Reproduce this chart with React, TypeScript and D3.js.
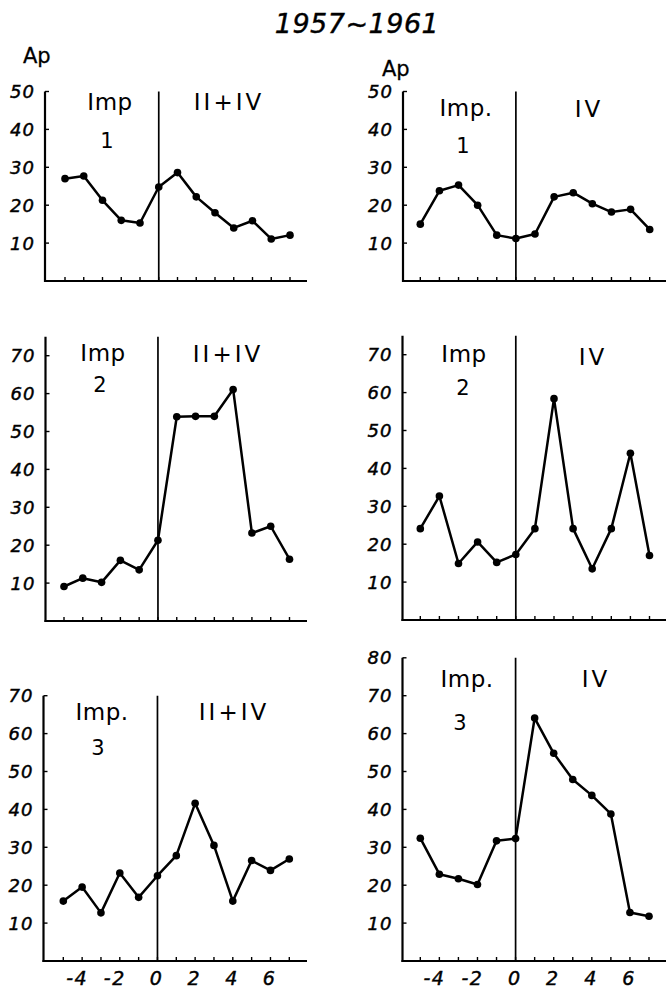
import * as d3 from 'd3';

const days = [-5, -4, -3, -2, -1, 0, 1, 2, 3, 4, 5, 6, 7];
const xTickLabels = [-4, -2, 0, 2, 4, 6];

// Ap values, one list per panel
const apImp1Left = [27, 27.7, 21.3, 16, 15.3, 24.8, 28.6, 22.2, 18, 14, 15.9, 11.1, 12.1];
const apImp1Right = [15, 23.8, 25.3, 20, 12.1, 11.2, 12.4, 22.2, 23.3, 20.4, 18.2, 18.9, 13.6];
const apImp2Left = [9.1, 11.3, 10.2, 16, 13.5, 21.3, 53.9, 54, 54, 61.1, 23.2, 25, 16.3];
const apImp2Right = [24.1, 32.7, 14.9, 20.6, 15.2, 17.3, 24.1, 58.4, 24.1, 13.5, 24.1, 44, 17];
const apImp3Left = [15.8, 19.5, 12.7, 23.2, 16.8, 22.5, 27.8, 41.6, 30.5, 15.8, 26.5, 23.9, 26.9];
const apImp3Right = [32.4, 22.9, 21.7, 20.2, 31.7, 32.3, 64.1, 54.8, 47.9, 43.7, 38.8, 12.8, 11.8];

const yTicks50 = [10, 20, 30, 40, 50];
const yTicks70 = [10, 20, 30, 40, 50, 60, 70];
const yTicks80 = [10, 20, 30, 40, 50, 60, 70, 80];

const title = '1957~1961';

const PX_PER_UNIT = 3.79;
const tickFont = '"DejaVu Sans", sans-serif';

const panels = [
  {
    values: apImp1Left, ticks: yTicks50, top: 50,
    axisX: 45, axisEnd: 307, xRange: [65, 290], base: 281,
    ap: { x: 23, y: 63 }, xLabels: false,
    imp: { text: 'Imp', x: 110, y: 110 }, num: { text: '1', x: 107, y: 148 },
    right: { text: 'II+IV', x: 229, y: 110 },
  },
  {
    values: apImp1Right, ticks: yTicks50, top: 50,
    axisX: 403, axisEnd: 666, xRange: [420.3, 649.7], base: 281,
    ap: { x: 382, y: 76 }, xLabels: false,
    imp: { text: 'Imp.', x: 466, y: 116 }, num: { text: '1', x: 463, y: 153 },
    right: { text: 'IV', x: 589, y: 117 },
  },
  {
    values: apImp2Left, ticks: yTicks70, top: 75,
    axisX: 45.5, axisEnd: 307, xRange: [64, 289.5], base: 621,
    ap: null, xLabels: false,
    imp: { text: 'Imp', x: 103, y: 361 }, num: { text: '2', x: 100, y: 392 },
    right: { text: 'II+IV', x: 228, y: 362 },
  },
  {
    values: apImp2Right, ticks: yTicks70, top: 75,
    axisX: 402.5, axisEnd: 666, xRange: [420.3, 649.5], base: 620,
    ap: null, xLabels: false,
    imp: { text: 'Imp', x: 464, y: 362 }, num: { text: '2', x: 463, y: 395 },
    right: { text: 'IV', x: 593, y: 365 },
  },
  {
    values: apImp3Left, ticks: yTicks70, top: 70,
    axisX: 43.5, axisEnd: 307, xRange: [63.3, 289.3], base: 961,
    ap: null, xLabels: true,
    imp: { text: 'Imp.', x: 102, y: 720 }, num: { text: '3', x: 98, y: 755 },
    right: { text: 'II+IV', x: 234, y: 720 },
  },
  {
    values: apImp3Right, ticks: yTicks80, top: 80,
    axisX: 402.5, axisEnd: 666, xRange: [420.3, 649], base: 961,
    ap: null, xLabels: true,
    imp: { text: 'Imp.', x: 467, y: 687 }, num: { text: '3', x: 460, y: 730 },
    right: { text: 'IV', x: 596, y: 687 },
  },
];

const Panel = ({ p }: { p: typeof panels[number] }) => {
  const x = d3.scaleLinear().domain([-5, 7]).range(p.xRange);
  const y = d3.scaleLinear().domain([0, 10]).range([p.base, p.base - 10 * PX_PER_UNIT]);
  const pts = days.map((d, i) => ({ d, v: p.values[i] }));
  const line = d3.line<{ d: number; v: number }>()
    .x(e => x(e.d))
    .y(e => y(e.v));
  const yTop = y(p.top);

  return (
    <g>
      {/* axes */}
      <line x1={p.axisX} x2={p.axisX} y1={yTop} y2={p.base + 1} stroke="#000" strokeWidth={2.2} />
      <line x1={p.axisX - 1} x2={p.axisEnd} y1={p.base} y2={p.base} stroke="#000" strokeWidth={2.2} />
      {/* zero line */}
      <line x1={x(0)} x2={x(0)} y1={yTop} y2={p.base} stroke="#000" strokeWidth={1.7} />
      {days.map(d => (
        <line key={d} x1={x(d)} x2={x(d)} y1={p.base} y2={p.base - 4} stroke="#000" strokeWidth={1.4} />
      ))}
      {p.ticks.map(t => (
        <g key={t}>
          <line x1={p.axisX} x2={p.axisX + 4} y1={y(t)} y2={y(t)} stroke="#000" strokeWidth={1.4} />
          <text x={p.axisX - 10} y={y(t)} dy="0.36em" textAnchor="end" stroke="#000" strokeWidth={0.45}
            fontFamily={tickFont} fontStyle="italic" fontSize={18} letterSpacing={1}>{t}</text>
        </g>
      ))}
      {p.xLabels && xTickLabels.map(t => (
        <text key={t} x={x(t) + 6} y={985} textAnchor="end" stroke="#000" strokeWidth={0.45}
          fontFamily={tickFont} fontStyle="italic" fontSize={19} letterSpacing={1.5}>{t}</text>
      ))}
      {p.ap && (
        <text x={p.ap.x} y={p.ap.y} fontFamily={tickFont} fontSize={21} stroke="#000" strokeWidth={0.3}>Ap</text>
      )}
      <text x={p.imp.x} y={p.imp.y} textAnchor="middle" fontFamily={tickFont} fontSize={23} letterSpacing={0.5}>{p.imp.text}</text>
      <text x={p.num.x} y={p.num.y} textAnchor="middle" fontFamily={tickFont} fontSize={21}>{p.num.text}</text>
      <text x={p.right.x} y={p.right.y} textAnchor="middle" fontFamily={tickFont} fontSize={23} letterSpacing={3}>{p.right.text}</text>
      {/* data */}
      <path d={line(pts) ?? ''} fill="none" stroke="#000" strokeWidth={2.5} strokeLinejoin="round" />
      {pts.map(e => (
        <circle key={e.d} cx={x(e.d)} cy={y(e.v)} r={3.8} fill="#000" />
      ))}
    </g>
  );
};

const App = () => {
  return (
    <svg width={666} height={991} viewBox="0 0 666 991"
      style={{ position: 'absolute', left: 0, top: 0, background: '#fff' }}>
      <rect width={666} height={991} fill="#fff" />
      <text x={357} y={33} textAnchor="middle" fontFamily={tickFont} fontStyle="italic" fontSize={27}
        letterSpacing={0.5} stroke="#000" strokeWidth={0.4}>{title}</text>
      {panels.map((p, i) => <Panel key={i} p={p} />)}
    </svg>
  );
};

export default App;
